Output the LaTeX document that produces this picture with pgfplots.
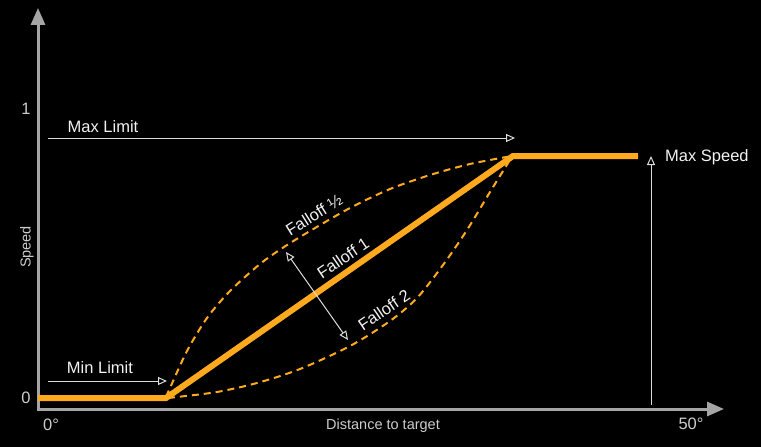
\documentclass[border=0pt]{standalone}
\usepackage{pgfplots}
\pgfplotsset{compat=1.18}
\usepackage{fontspec}
\setmainfont{Liberation Sans}
\usetikzlibrary{arrows.meta}
\definecolor{orng}{RGB}{255,170,30}
\definecolor{axgray}{RGB}{165,165,165}
\definecolor{txt}{RGB}{242,242,242}
\definecolor{lbl}{RGB}{205,205,205}
\definecolor{ann}{RGB}{220,220,220}
\newcommand{\bigf}{\fontsize{16.5bp}{20bp}\selectfont}
\newcommand{\smallf}{\fontsize{14.5bp}{17bp}\selectfont}
\begin{document}
\begin{tikzpicture}
\begin{axis}[
  scale only axis, width=761bp, height=447bp,
  xmin=0, xmax=761, ymin=0, ymax=447, y dir=reverse,
  axis line style={draw=none}, xtick=\empty, ytick=\empty,
  axis background/.style={fill=black},
  clip=false,
]
% axes
\draw[axgray, line width=3bp, {Triangle[length=17bp,width=14bp]}-{Triangle[length=17bp,width=14bp]}]
  (axis cs:38,8) -- (axis cs:38,409) -- (axis cs:724,409);
% falloff 1/2
\addplot[orng, line width=2bp, dash pattern=on 7bp off 5bp, smooth] coordinates {
 (166,397) (170,388) (187,351) (207,318) (230,291) (260,264) (284,247) (310,231)
 (350,208) (390,189) (430,175) (470,164) (512,156)};
% falloff 2
\addplot[orng, line width=2bp, dash pattern=on 7bp off 5bp, smooth] coordinates {
 (168,398) (177,397) (217,392) (257,383) (300,369) (350,346) (390,321) (417,298)
 (443,265) (467,230) (490,192) (508,163) (512,156)};
% falloff 1
\addplot[orng, line width=6bp] coordinates {(38,398) (166,398) (513,156) (638,156)};
% annotation arrows
\draw[ann, line width=1bp, -{Triangle[open,length=9bp,width=8bp]}] (axis cs:48,138) -- (axis cs:515,138);
\draw[ann, line width=1bp, -{Triangle[open,length=9bp,width=8bp]}] (axis cs:48,381) -- (axis cs:167,381);
\draw[ann, line width=1bp, -{Triangle[open,length=9bp,width=8bp]}] (axis cs:651,405) -- (axis cs:651,156);
\draw[ann, line width=1bp, {Triangle[open,length=9bp,width=8bp]}-{Triangle[open,length=9bp,width=8bp]}] (axis cs:286,252) -- (axis cs:348,340);
% texts
\node[txt, font=\bigf] at (axis cs:103,127) {Max Limit};
\node[txt, font=\bigf] at (axis cs:100,368) {Min Limit};
\node[txt, font=\bigf, anchor=west, inner sep=0pt] at (axis cs:665,157) {Max Speed};
\node[txt, font=\bigf, rotate=32] at (axis cs:314,215) {Falloff ½};
\node[txt, font=\bigf, rotate=34] at (axis cs:343,258) {Falloff 1};
\node[txt, font=\bigf, rotate=34] at (axis cs:384,310) {Falloff 2};
\node[lbl, font=\bigf] at (axis cs:26,109) {1};
\node[lbl, font=\bigf] at (axis cs:26,398) {0};
\node[lbl, font=\bigf] at (axis cs:51,425) {0°};
\node[lbl, font=\bigf] at (axis cs:691,424) {50°};
\node[lbl, font=\smallf, rotate=90] at (axis cs:27,247) {Speed};
\node[lbl, font=\smallf] at (axis cs:383,426) {Distance to target};
\end{axis}
\end{tikzpicture}
\end{document}
